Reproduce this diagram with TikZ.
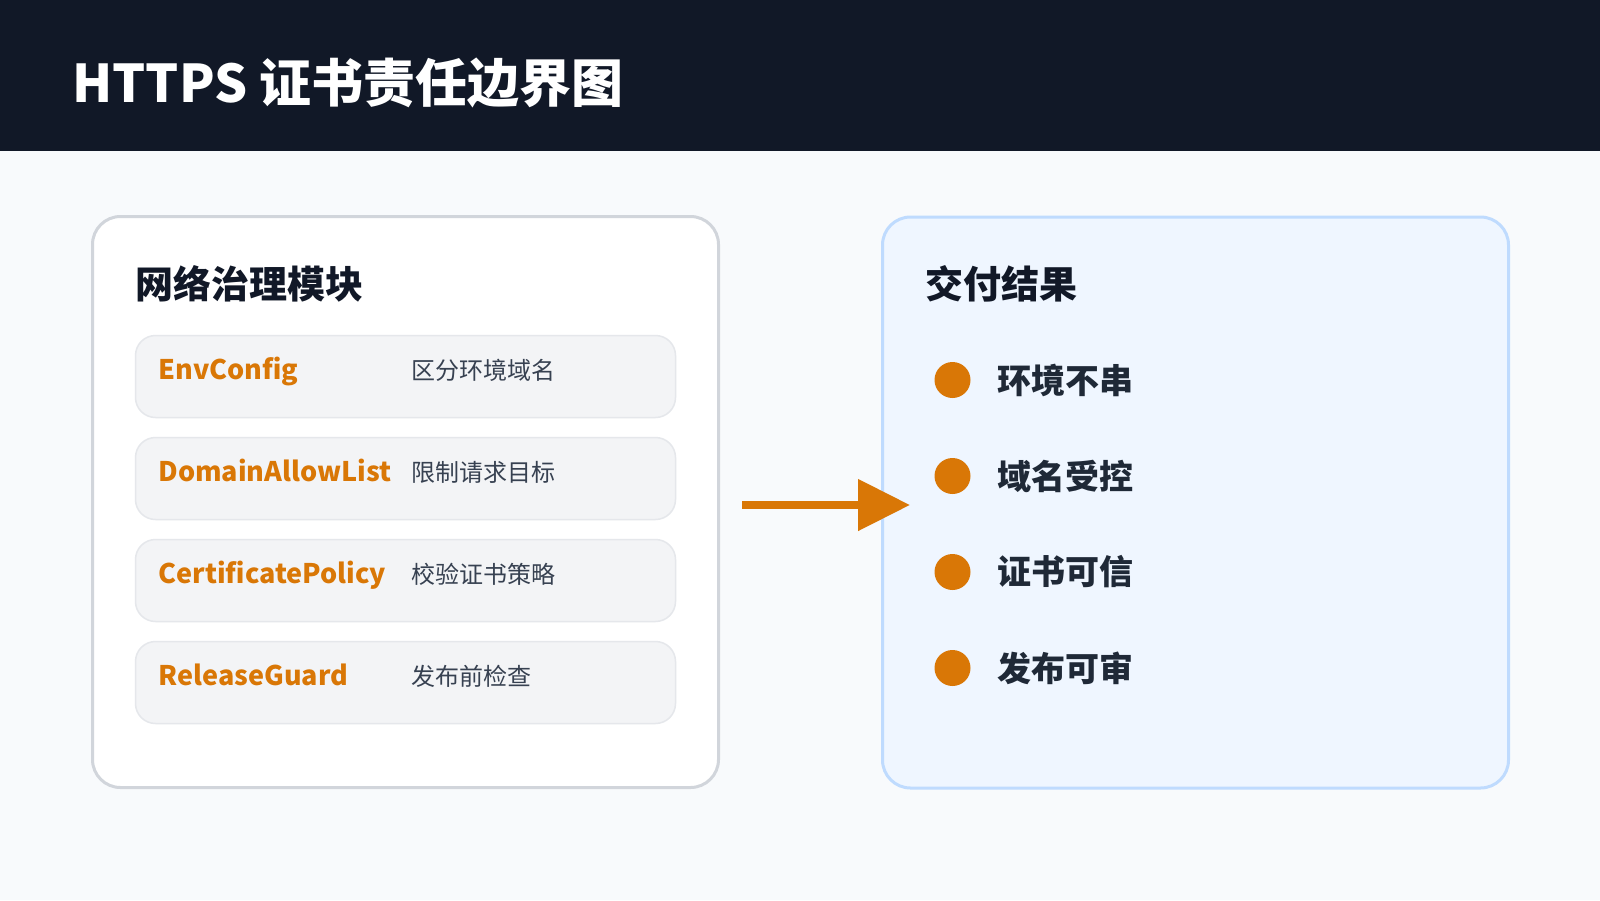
\documentclass[tikz,border=0pt]{standalone}
\usepackage{fontspec}
\setmainfont{Noto Sans CJK SC}
\usepackage{xcolor}
\usepackage{tikz}
\usetikzlibrary{positioning}
\usetikzlibrary{graphs}
\usetikzlibrary{arrows.meta}

\definecolor{bakgrunn}{HTML}{F8FAFC}
\definecolor{topp}{HTML}{111827}
\definecolor{oransje}{HTML}{D97706}
\definecolor{graakant}{HTML}{D1D5DB}
\definecolor{radfyll}{HTML}{F3F4F6}
\definecolor{radkant}{HTML}{E5E7EB}
\definecolor{beskrivelse}{HTML}{374151}
\definecolor{punkttekst}{HTML}{1F2937}
\definecolor{blaafyll}{HTML}{EFF6FF}
\definecolor{blaakant}{HTML}{BFDBFE}

\begin{document}
\begin{tikzpicture}[x=0.5pt, y=-0.5pt,
	tittel/.style={text=white, inner sep=0pt, anchor=base west, font=\bfseries\fontsize{26pt}{30pt}\selectfont},
	overskrift/.style={text=topp, inner sep=0pt, anchor=west, font=\bfseries\fontsize{19pt}{23pt}\selectfont},
	venstre/.style={draw=graakant, fill=white, line width=1.5pt, rounded corners=14pt, minimum width=313pt, minimum height=285.5pt, inner sep=0pt},
	hoyre/.style={draw=blaakant, fill=blaafyll, line width=1.5pt, rounded corners=14pt, minimum width=313pt, minimum height=285.5pt, inner sep=0pt},
	rad/.style={draw=radkant, fill=radfyll, line width=0.75pt, rounded corners=10pt, minimum width=270pt, minimum height=41pt, inner sep=0pt},
	modul/.style={text=oransje, inner sep=0pt, anchor=base west, font=\bfseries\fontsize{13.5pt}{16pt}\selectfont},
	forklaring/.style={text=beskrivelse, inner sep=0pt, anchor=base west, font=\fontsize{12pt}{14pt}\selectfont},
	prikk/.style={circle, fill=oransje, minimum size=18pt, inner sep=0pt},
	resultat/.style={text=punkttekst, inner sep=0pt, anchor=west, font=\bfseries\fontsize{17pt}{20pt}\selectfont},
	pil/.style={draw=oransje, line width=4pt, -{Triangle[length=26pt, width=25pt]}}]
	%Bakgrunn og topplinje
	\fill[bakgrunn] (0,0) rectangle (1600,900);
	\fill[topp] (0,0) rectangle (1600,151);
	\node[tittel] (tittel) at (72,102) {HTTPS 证书责任边界图};

	%Venstre boks
	\node[venstre] (moduler) at (405.5,502) {};
	\node[overskrift] (modultittel) at (135,284) {网络治理模块};
	\node[rad] (rad1) at (405.5,376.5) {};
	\node[rad] (rad2) at (405.5,478.5) {};
	\node[rad] (rad3) at (405.5,580.5) {};
	\node[rad] (rad4) at (405.5,682.5) {};
	\node[modul] (m1) at (158,379) {EnvConfig};
	\node[forklaring] (f1) at (411,379) {区分环境域名};
	\node[modul] (m2) at (158,481) {DomainAllowList};
	\node[forklaring] (f2) at (411,481) {限制请求目标};
	\node[modul] (m3) at (158,583) {CertificatePolicy};
	\node[forklaring] (f3) at (411,583) {校验证书策略};
	\node[modul] (m4) at (158,685) {ReleaseGuard};
	\node[forklaring] (f4) at (411,685) {发布前检查};

	%Hoyre boks
	\node[hoyre] (levert) at (1195.5,502.5) {};
	\node[overskrift] (levertittel) at (925,284) {交付结果};
	\node[prikk] (p1) at (952.5,380) {};
	\node[prikk] (p2) at (952.5,476) {};
	\node[prikk] (p3) at (952.5,572) {};
	\node[prikk] (p4) at (952.5,668) {};
	\node[resultat, right=13pt of p1] (r1) {环境不串};
	\node[resultat, right=13pt of p2] (r2) {域名受控};
	\node[resultat, right=13pt of p3] (r3) {证书可信};
	\node[resultat, right=13pt of p4] (r4) {发布可审};

	%Pila
	\coordinate (pilfra) at (742,505);
	\coordinate (piltil) at (910,505);
	\graph {
		(pilfra) --[pil] (piltil);
	};
\end{tikzpicture}
\end{document}
